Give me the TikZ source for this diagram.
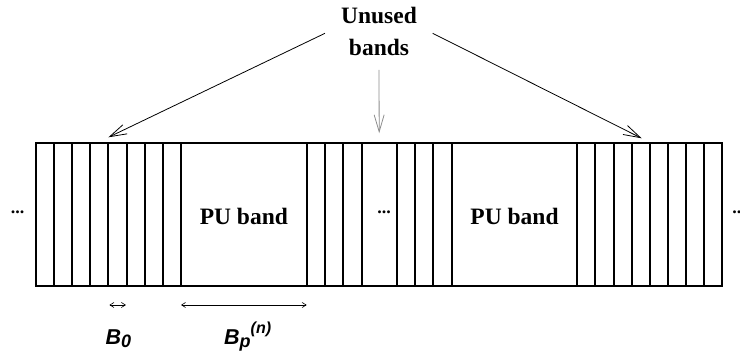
\documentclass[tikz,border=0pt]{standalone}
\usepackage{fontspec}
\setmainfont{Liberation Serif}
\newfontfamily\labfont{Liberation Sans}
\usetikzlibrary{arrows.meta,calc}
% lowered and raised indices for the bandwidth symbols
\newcommand\bandsub[1]{\raisebox{-3.5pt}{\fontsize{18}{20}\selectfont #1}}
\newcommand\bandsup[1]{\raisebox{11pt}{\fontsize{16}{18}\selectfont #1}}
\begin{document}
\begin{tikzpicture}[x=1pt,y=-1pt,
  cell/.style={minimum height=143pt, inner sep=0pt, outer sep=0pt, anchor=north west},
  edge/.style={line width=1.9pt},
  bandtext/.style={font=\fontsize{23.5}{28}\selectfont\bfseries, inner sep=0pt, anchor=base},
  dots/.style={font=\fontsize{18}{20}\selectfont\bfseries, inner sep=0pt, anchor=base},
  pointer/.style={line width=0.8pt, -{Straight Barb[length=17pt,width=10pt]}},
  span/.style={line width=0.6pt,
    {Straight Barb[length=4pt,width=5pt]}-{Straight Barb[length=4pt,width=5pt]}},
  dimlabel/.style={font=\labfont\fontsize{21.5}{24}\selectfont\bfseries\itshape,
    inner sep=0pt, anchor=base west}]
\useasboundingbox (0,0) rectangle (740,358);

% spectrum: narrow unused bands, PU bands and a gap
\foreach \i in {1,...,8}
  \node[cell, minimum width=18.15pt] (L\i) at ({35.8+(\i-1)*18.15},142.7) {};
\node[cell, minimum width=125.7pt] (pu1) at (181,142.7) {};
\foreach \i in {1,2,3}
  \node[cell, minimum width=18.33pt] (M\i) at ({306.7+(\i-1)*18.33},142.7) {};
\node[cell, minimum width=35pt] (gap) at (361.7,142.7) {};
\foreach \i in {1,2,3}
  \node[cell, minimum width=18.33pt] (N\i) at ({396.7+(\i-1)*18.33},142.7) {};
\node[cell, minimum width=125.6pt] (pu2) at (451.7,142.7) {};
\foreach \i in {1,...,8}
  \node[cell, minimum width=18.125pt] (R\i) at ({577.3+(\i-1)*18.125},142.7) {};

% outline and the divider between neighbouring bands
\draw[edge] (L1.north west) rectangle (R8.south east);
\foreach \c in {L1,L2,L3,L4,L5,L6,L7,L8,pu1,M1,M2,M3,gap,N1,N2,N3,pu2,
                R1,R2,R3,R4,R5,R6,R7}
  \draw[edge] (\c.north east) -- (\c.south east);

% band texts
\node[bandtext] (pu1txt) at (pu1.center |- 0,225) {PU band};
\node[bandtext] (pu2txt) at (pu2.center |- 0,225) {PU band};
\node[dots] (dotsL) at (17.5,213.5) {...};
\node[dots] (dotsM) at (384,213.5) {...};
\node[dots] (dotsR) at (739,213.5) {...};

% caption with its pointers
\node[font=\fontsize{23.5}{31.7}\selectfont\bfseries, align=center, inner sep=0pt]
  (unused) at (379,31.2) {Unused\\bands};
\coordinate (uL) at (325,33.3);
\coordinate (uR) at (432.7,33.3);
\coordinate (uM) at (379,70);
\draw[pointer] (uL) -- ($(L5.north west)+(0,-5.4)$);
\draw[pointer] (uR) -- ($(R4.north west)+(10,-4.4)$);
\draw[pointer, draw=gray!90] (uM) -- ($(gap.north)+(0,-9.5)$);

% bandwidth markers
\coordinate (dimy) at (0,305);
\draw[span] ($(L5.south west |- dimy)+(1,0)$) -- ($(L5.south east |- dimy)+(-0.6,0)$);
\draw[span] (pu1.south west |- dimy) -- (pu1.south east |- dimy);
\node[dimlabel] (b0) at (105.5,344.3) {B\bandsub{0}};
\node[dimlabel] (bp) at (224,344.3) {B\bandsub{p}\bandsup{(n)}};
\end{tikzpicture}
\end{document}
